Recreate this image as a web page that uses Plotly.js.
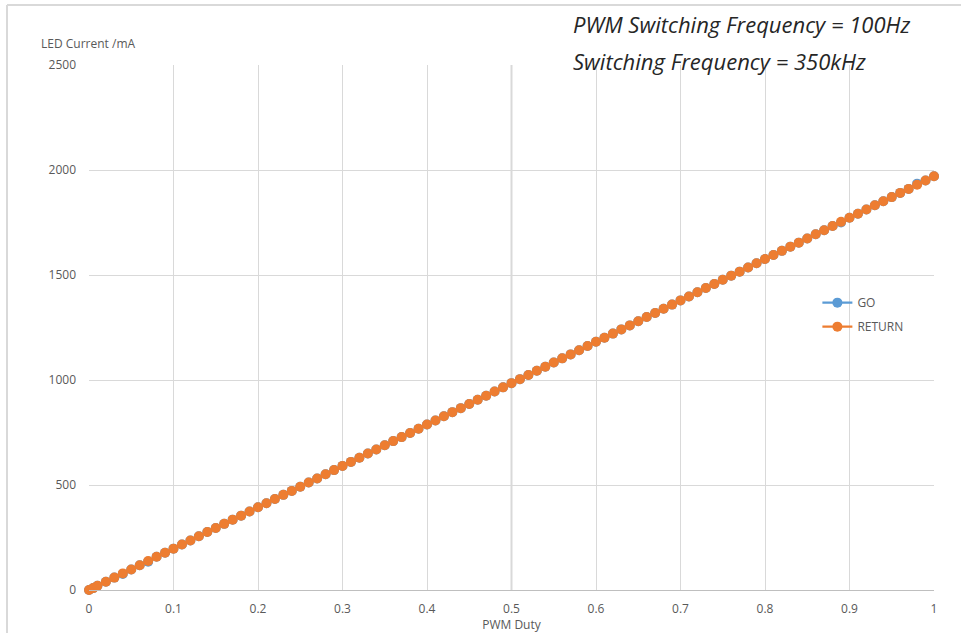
<!DOCTYPE html>
<html>
<head>
<meta charset="utf-8">
<script src="https://cdn.plot.ly/plotly-3.0.1.min.js"></script>
<style>html,body{margin:0;padding:0;background:#fff;}#chart{width:961px;height:633px;}</style>
</head>
<body>
<div id="chart"></div>
<script>
const duty = [0, 0.005,
  0.01,0.02,0.03,0.04,0.05,0.06,0.07,0.08,0.09,0.10,
  0.11,0.12,0.13,0.14,0.15,0.16,0.17,0.18,0.19,0.20,
  0.21,0.22,0.23,0.24,0.25,0.26,0.27,0.28,0.29,0.30,
  0.31,0.32,0.33,0.34,0.35,0.36,0.37,0.38,0.39,0.40,
  0.41,0.42,0.43,0.44,0.45,0.46,0.47,0.48,0.49,0.50,
  0.51,0.52,0.53,0.54,0.55,0.56,0.57,0.58,0.59,0.60,
  0.61,0.62,0.63,0.64,0.65,0.66,0.67,0.68,0.69,0.70,
  0.71,0.72,0.73,0.74,0.75,0.76,0.77,0.78,0.79,0.80,
  0.81,0.82,0.83,0.84,0.85,0.86,0.87,0.88,0.89,0.90,
  0.91,0.92,0.93,0.94,0.95,0.96,0.97,0.98,0.99,1.00];
const returnCurrent = [0, 9,
  20,39,59,79,98,118,138,158,177,197,
  217,236,256,276,295,315,335,354,374,394,
  413,433,453,472,492,512,531,551,571,591,
  610,630,650,669,689,709,728,748,768,788,
  807,827,847,866,886,906,925,945,965,985,
  1004,1024,1044,1063,1083,1103,1122,1142,1162,1182,
  1201,1221,1241,1260,1280,1300,1319,1339,1359,1379,
  1398,1418,1438,1457,1477,1497,1516,1536,1556,1576,
  1595,1615,1635,1654,1674,1694,1713,1733,1753,1773,
  1792,1812,1832,1851,1871,1891,1910,1930,1950,1970];
const goCurrent = [0, 9,
  20,39,59,76,98,118,135,158,177,197,
  217,236,256,276,295,315,335,354,374,394,
  413,433,453,472,492,512,531,551,571,591,
  610,630,650,669,689,709,728,748,768,788,
  807,827,847,866,886,906,925,945,965,985,
  1004,1024,1044,1063,1083,1103,1122,1142,1162,1182,
  1201,1221,1241,1260,1280,1300,1319,1339,1359,1379,
  1398,1418,1438,1457,1477,1497,1516,1536,1556,1576,
  1595,1615,1635,1654,1674,1694,1713,1733,1750,1773,
  1792,1812,1832,1851,1871,1891,1910,1935,1950,1970];
const xTicks = [0,0.1,0.2,0.3,0.4,0.5,0.6,0.7,0.8,0.9,1];
const xTickText = ['0','0.1','0.2','0.3','0.4','0.5','0.6','0.7','0.8','0.9','1'];
const yTicks = [0,500,1000,1500,2000,2500];

const FONT = 'Open Sans, Liberation Sans, sans-serif';
const traces = [
  {x: duty, y: goCurrent, name: 'GO', type: 'scatter', mode: 'lines+markers', legendgroup: 'g1', cliponaxis: false,
   line: {color: '#5B9BD5', width: 2.25}, marker: {color: '#5B9BD5', size: 10}},
  {x: duty, y: returnCurrent, name: 'RETURN', type: 'scatter', mode: 'lines+markers', legendgroup: 'g2', cliponaxis: false,
   line: {color: '#ED7D31', width: 2.25}, marker: {color: '#ED7D31', size: 10}}
];
const layout = {
  width: 961, height: 633,
  margin: {l: 89, r: 27, t: 65, b: 43},
  paper_bgcolor: '#fff', plot_bgcolor: '#fff',
  font: {family: FONT, size: 12, color: '#595959'},
  showlegend: true,
  legend: {x: 0.862, y: 0.575, xanchor: 'left', yanchor: 'top', bgcolor: 'rgba(0,0,0,0)',
           font: {family: FONT, size: 12, color: '#595959'}, tracegroupgap: 5, itemwidth: 30},
  xaxis: {range: [0, 1], tickvals: xTicks, ticktext: xTickText, showgrid: true, gridcolor: '#d9d9d9',
          gridwidth: 1, zeroline: false, showline: true, linecolor: '#bfbfbf', linewidth: 1,
          ticks: '', ticklen: 0, ticklabelstandoff: 8, tickfont: {family: FONT, size: 12, color: '#595959'},
          title: {text: 'PWM Duty', font: {family: FONT, size: 12, color: '#595959'}, standoff: 10}},
  yaxis: {range: [0, 2500], tickvals: yTicks, showgrid: true, gridcolor: '#d9d9d9', gridwidth: 1,
          zeroline: false, showline: false, ticks: '', ticklen: 0, ticklabelstandoff: 12,
          tickfont: {family: FONT, size: 12, color: '#595959'}},
  annotations: [
    {xref: 'paper', yref: 'paper', x: (39-89)/845, y: (590-44)/525, xanchor: 'left', yanchor: 'middle', showarrow: false,
     text: 'LED Current /mA', font: {family: FONT, size: 12, color: '#595959'}},
    {xref: 'paper', yref: 'paper', x: (571-89)/845, y: (590-24)/525, xanchor: 'left', yanchor: 'middle', showarrow: false,
     text: '<i>PWM Switching Frequency = 100Hz</i>', font: {family: FONT, size: 22, color: '#262626'}},
    {xref: 'paper', yref: 'paper', x: (571-89)/845, y: (590-61)/525, xanchor: 'left', yanchor: 'middle', showarrow: false,
     text: '<i>Switching Frequency = 350kHz</i>', font: {family: FONT, size: 22, color: '#262626'}}
  ],
  shapes: [
    {type: 'line', xref: 'paper', yref: 'paper', x0: (7-89)/845, x1: (961-89)/845, y0: (590-5)/525, y1: (590-5)/525,
     line: {color: '#d9d9d9', width: 2}},
    {type: 'line', xref: 'paper', yref: 'paper', x0: (7-89)/845, x1: (7-89)/845, y0: (590-5)/525, y1: (590-633)/525,
     line: {color: '#d9d9d9', width: 2}},
    {type: 'line', xref: 'x', yref: 'paper', x0: 0.5, x1: 0.5, y0: 0, y1: 1, layer: 'below',
     line: {color: '#d9d9d9', width: 2}}
  ]
};
Plotly.newPlot('chart', traces, layout, {displayModeBar: false, staticPlot: true});
</script>
</body>
</html>
